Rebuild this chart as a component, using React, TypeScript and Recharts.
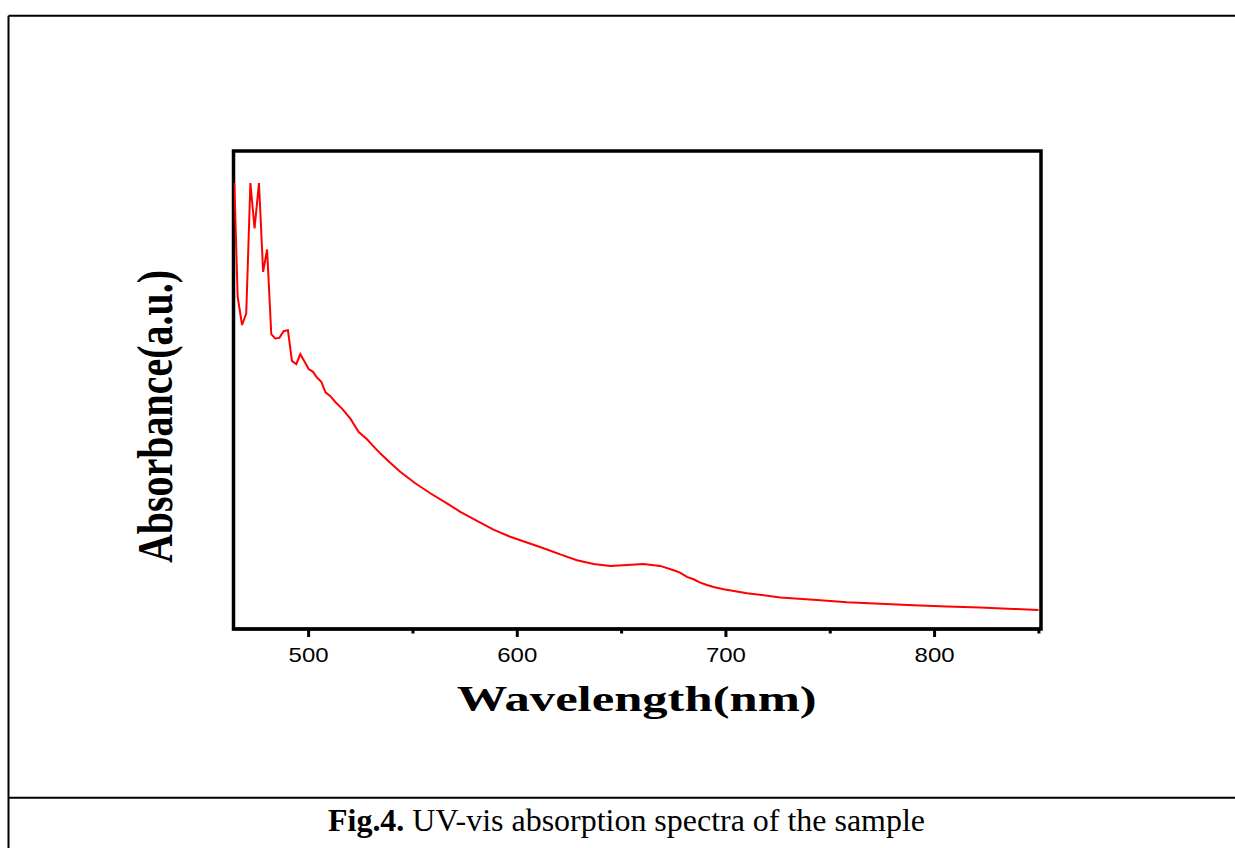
import React from "react";
import { LineChart, Line, XAxis, YAxis, ReferenceArea } from "recharts";

const wavelength = [
  464.4, 466.0, 468.1, 470.1, 472.1, 474.1, 476.2, 478.2, 480.1, 482.1, 484.0, 486.0,
  488.0, 490.1, 492.0, 494.1, 496.0, 498.1, 500.0, 502.1, 504.0, 506.1, 508.1, 510.4,
  512.8, 516.0, 520.0, 524.0, 528.0, 532.0, 534.4, 539.1, 543.9, 551.1, 558.3, 566.3,
  572.7, 580.7, 588.6, 596.6, 604.6, 612.6, 620.6, 628.6, 636.6, 644.6, 652.6, 660.5,
  668.5, 674.9, 678.0, 681.3, 684.5, 687.7, 690.9, 694.1, 698.9, 710.1, 726.0, 742.0,
  758.0, 773.9, 789.9, 805.9, 821.8, 837.8, 849.8,
];
const absorbance = [
  93.3, 69.5, 63.6, 66.0, 93.3, 83.8, 93.3, 74.7, 79.4, 61.7, 60.8, 60.9,
  62.3, 62.5, 56.1, 55.4, 57.5, 55.9, 54.4, 53.8, 52.6, 51.7, 49.5, 48.7,
  47.5, 46.1, 44.0, 41.2, 39.7, 37.8, 36.7, 34.8, 32.9, 30.5, 28.4, 26.3,
  24.5, 22.6, 20.8, 19.3, 18.1, 16.9, 15.6, 14.4, 13.6, 13.2, 13.4, 13.6,
  13.2, 12.3, 11.8, 10.9, 10.4, 9.7, 9.2, 8.8, 8.3, 7.5, 6.6, 6.1,
  5.6, 5.3, 4.96, 4.7, 4.5, 4.2, 4.0,
];
const xTicks = [500, 550, 600, 650, 700, 750, 800, 850];
const xDomain = [464, 851];
const yDomain = [0, 100];

const xLabel = "Wavelength(nm)";
const yLabel = "Absorbance(a.u.)";
const captionBold = "Fig.4.";
const captionText = " UV-vis absorption spectra of the sample";

const data = wavelength.map((w, i) => ({ w, a: absorbance[i] }));

const XTick = (props: any) => {
  const { x, y, payload } = props;
  const major = payload.value % 100 === 0;
  return (
    <g>
      <line x1={x} x2={x} y1={y} y2={y + (major ? 8 : 4.5)} stroke="#000" strokeWidth={3} />
      {major && (
        <text
          x={x}
          y={y + 33}
          textAnchor="middle"
          fontFamily="'Liberation Sans', Arial, sans-serif"
          fontSize={21}
          textLength={40}
          lengthAdjust="spacingAndGlyphs"
          fill="#000"
        >
          {payload.value}
        </text>
      )}
    </g>
  );
};

export default function App() {
  return (
    <div style={{ position: "absolute", left: 0, top: 0, width: 1235, height: 848, background: "#fff", overflow: "hidden" }}>
      <svg width={1235} height={848} style={{ position: "absolute", left: 0, top: 0 }}>
        <line x1={8.5} y1={15.7} x2={1235} y2={15.7} stroke="#000" strokeWidth={2} />
        <line x1={8.5} y1={15.7} x2={8.5} y2={848} stroke="#000" strokeWidth={2} />
        <line x1={8.5} y1={797.7} x2={1235} y2={797.7} stroke="#000" strokeWidth={2} />
        <text
          transform="translate(172, 416.5) rotate(-90)"
          textAnchor="middle"
          fontFamily="'Liberation Serif', 'Times New Roman', serif"
          fontWeight="bold"
          fontSize={50}
          textLength={293}
          lengthAdjust="spacingAndGlyphs"
          fill="#000"
        >
          {yLabel}
        </text>
        <text
          x={636.7}
          y={711}
          textAnchor="middle"
          fontFamily="'Liberation Serif', 'Times New Roman', serif"
          fontWeight="bold"
          fontSize={36}
          textLength={360}
          lengthAdjust="spacingAndGlyphs"
          fill="#000"
        >
          {xLabel}
        </text>
        <text
          x={626.5}
          y={831}
          textAnchor="middle"
          fontFamily="'Liberation Serif', 'Times New Roman', serif"
          fontSize={32}
          textLength={597}
          lengthAdjust="spacingAndGlyphs"
          fill="#000"
        >
          <tspan fontWeight="bold">{captionBold}</tspan>
          <tspan>{captionText}</tspan>
        </text>
      </svg>
      <div style={{ position: "absolute", left: 0, top: 0 }}>
        <LineChart
          width={1235}
          height={848}
          data={data}
          margin={{ top: 151, right: 194, bottom: 159, left: 233.5 }}
        >
          <XAxis
            dataKey="w"
            type="number"
            domain={xDomain}
            ticks={xTicks}
            allowDataOverflow
            height={60}
            tickSize={0}
            tickMargin={0}
            tickLine={false}
            axisLine={{ stroke: "#000", strokeWidth: 3 }}
            tick={<XTick />}
            interval={0}
          />
          <YAxis type="number" domain={yDomain} hide allowDataOverflow />
          <ReferenceArea
            x1={xDomain[0]}
            x2={xDomain[1]}
            y1={yDomain[0]}
            y2={yDomain[1]}
            fill="none"
            fillOpacity={0}
            stroke="#000"
            strokeWidth={3.5}
          />
          <Line
            type="linear"
            dataKey="a"
            stroke="#ff0000"
            strokeWidth={2}
            dot={false}
            isAnimationActive={false}
          />
        </LineChart>
      </div>
    </div>
  );
}
